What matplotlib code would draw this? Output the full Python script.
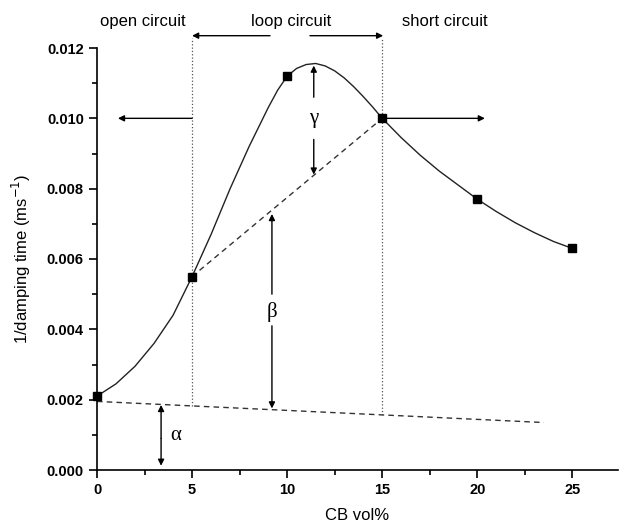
import matplotlib
matplotlib.use("Agg")
import matplotlib.pyplot as plt
from matplotlib.ticker import MultipleLocator, FormatStrFormatter

# measured points
cb_vol = [0, 5, 10, 15, 20, 25]
inv_damping = [0.0021, 0.0055, 0.0112, 0.0100, 0.0077, 0.0063]

# smooth guide curve
curve_x = [0, 1, 2, 3, 4, 5, 6, 7, 8, 9, 9.5, 10, 10.5, 11, 11.5, 12, 12.5,
           13, 13.5, 14, 14.5, 15, 16, 17, 18, 19, 20, 21, 22, 23, 24, 25]
curve_y = [0.0021, 0.00245, 0.00295, 0.0036, 0.0044, 0.0055, 0.0067, 0.0080,
           0.0092, 0.0103, 0.0108, 0.0112, 0.01142, 0.01153, 0.01156, 0.01149,
           0.01135, 0.01115, 0.0109, 0.01062, 0.01032, 0.0100, 0.00945,
           0.00895, 0.0085, 0.0081, 0.0077, 0.00735, 0.00703, 0.00675,
           0.0065, 0.0063]

# dashed reference lines
base_x = [0, 23.5]
base_y = [0.00195, 0.00135]
loop_x = [5, 15]
loop_y = [0.0055, 0.0100]

region_labels = ["open circuit", "loop circuit", "short circuit"]
region_x = [2.4, 10.2, 18.3]

fig = plt.figure(figsize=(6.2, 5.28), dpi=100)
ax = fig.add_axes([97 / 620, 58 / 528, 521 / 620, 422 / 528])

sans = ["Liberation Sans", "DejaVu Sans"]
serif = ["Liberation Serif", "DejaVu Serif"]

ax.plot(curve_x, curve_y, color="#222222", lw=1.0)
ax.plot(cb_vol, inv_damping, "s", color="black", ms=5.5, clip_on=False, zorder=5)
ax.plot(base_x, base_y, color="#333333", lw=1.0, dashes=(4, 3))
ax.plot(loop_x, loop_y, color="#333333", lw=1.0, dashes=(4, 3))

# region boundaries
for xv, yb in [(5, 0.00182), (15, 0.00157)]:
    ax.plot([xv, xv], [yb, 0.01228], color="#555555", lw=0.9, ls=":", clip_on=False)

arrow = dict(arrowstyle="-|>", color="black", lw=1.0, mutation_scale=9,
             shrinkA=0, shrinkB=0)

def arr(x0, y0, x1, y1):
    ax.annotate("", xy=(x1, y1), xytext=(x0, y0), arrowprops=arrow,
                annotation_clip=False)

# top arrows
arr(9.1, 0.01235, 5.0, 0.01235)
arr(11.2, 0.01235, 15.05, 0.01235)
# side arrows
arr(5.0, 0.0100, 1.1, 0.0100)
arr(15.0, 0.0100, 20.4, 0.0100)
# gamma
arr(11.4, 0.0106, 11.4, 0.01150)
arr(11.4, 0.0094, 11.4, 0.0084)
# beta
arr(9.2, 0.0050, 9.2, 0.00728)
arr(9.2, 0.0041, 9.2, 0.00175)
# alpha
arr(3.37, 0.0009, 3.37, 0.00185)
arr(3.37, 0.0009, 3.37, 0.00012)

ax.text(11.4, 0.0100, "γ", family=serif, fontsize=15, ha="center", va="center")
ax.text(9.2, 0.0045, "β", family=serif, fontsize=15, ha="center", va="center")
ax.text(4.15, 0.00097, "α", family=serif, fontsize=15, ha="center", va="center")

for lab, xv in zip(region_labels, region_x):
    ax.text(xv, 0.01274, lab, family=sans, fontsize=12, ha="center", va="center")

ax.set_xlim(0, 27.4)
ax.set_ylim(0, 0.012)
ax.spines["top"].set_visible(False)
ax.spines["right"].set_visible(False)
for s in ["left", "bottom"]:
    ax.spines[s].set_linewidth(1.2)

ax.xaxis.set_major_locator(MultipleLocator(5))
ax.xaxis.set_minor_locator(MultipleLocator(2.5))
ax.yaxis.set_major_locator(MultipleLocator(0.002))
ax.yaxis.set_minor_locator(MultipleLocator(0.001))
ax.yaxis.set_major_formatter(FormatStrFormatter("%.3f"))
ax.tick_params(which="major", length=6, width=1.2, direction="out")
ax.tick_params(which="minor", length=3.5, width=1.2, direction="out")
for t in ax.get_xticklabels() + ax.get_yticklabels():
    t.set_family(sans)
    t.set_fontsize(10.5)
    t.set_fontweight("bold")

ax.set_xlabel("CB vol%", family=sans, fontsize=12, labelpad=8)
ax.set_ylabel("1/damping time (ms$^{-1}$)", family=sans, fontsize=12, labelpad=10)

fig.savefig("out.png", dpi=100)
